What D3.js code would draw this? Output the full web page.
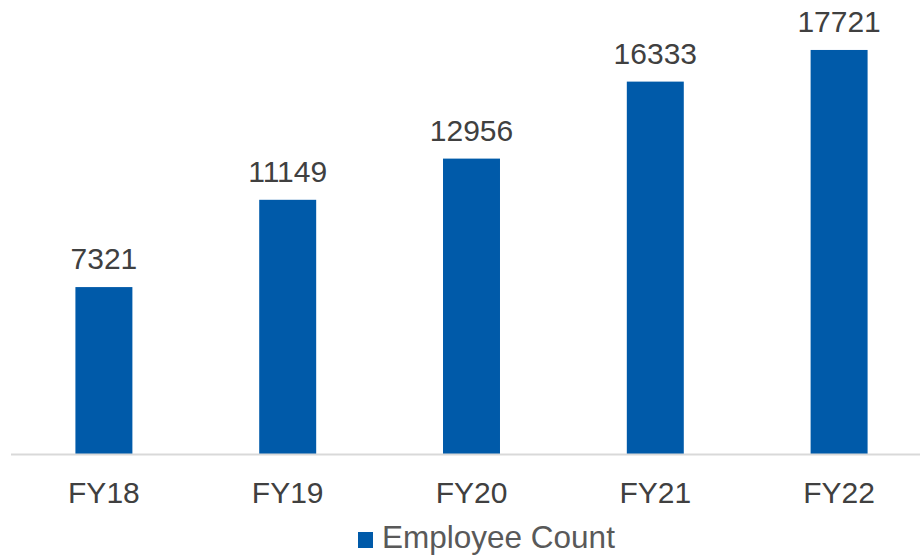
<!DOCTYPE html>
<html>
<head>
<meta charset="utf-8">
<script src="https://cdn.jsdelivr.net/npm/d3@7"></script>
<style>
  body { margin: 0; background: #fff; }
  text { font-family: "Liberation Sans", Arial, sans-serif; }
</style>
</head>
<body>
<div id="chart"></div>
<script>
var years = ["FY18", "FY19", "FY20", "FY21", "FY22"];
var employees = [7321, 11149, 12956, 16333, 17721];
var seriesName = "Employee Count";

var width = 920, height = 559;
var baseline = 454;

var svg = d3.select("#chart").append("svg")
    .attr("width", width)
    .attr("height", height);

var x = d3.scaleBand()
    .domain(years)
    .range([12, 931])
    .paddingInner(0.69)
    .paddingOuter(0.345);

var y = d3.scaleLinear()
    .domain([0, 20000])
    .range([baseline, -2]);

// bars
svg.selectAll(".bar")
    .data(employees)
  .enter().append("rect")
    .attr("class", "bar")
    .attr("x", function(d, i) { return x(years[i]); })
    .attr("width", x.bandwidth())
    .attr("y", function(d) { return y(d); })
    .attr("height", function(d) { return baseline - y(d); })
    .attr("fill", "#005AA9");

// value labels
svg.selectAll(".val")
    .data(employees)
  .enter().append("text")
    .attr("class", "val")
    .attr("x", function(d, i) { return x(years[i]) + x.bandwidth() / 2; })
    .attr("y", function(d) { return y(d) - 18; })
    .attr("text-anchor", "middle")
    .attr("font-size", "30px")
    .attr("fill", "#404040")
    .text(function(d) { return d; });

// x axis
var xAxis = svg.append("g")
    .attr("transform", "translate(0," + baseline + ")")
    .call(d3.axisBottom(x).tickSize(0).tickPadding(0));
xAxis.select(".domain").remove();
xAxis.append("line")
    .attr("x1", 11).attr("x2", width)
    .attr("y1", 0.5).attr("y2", 0.5)
    .attr("stroke", "#d9d9d9")
    .attr("stroke-width", 2);
xAxis.selectAll(".tick text")
    .attr("y", 49)
    .attr("dy", null)
    .attr("font-size", "30px")
    .attr("font-family", "Liberation Sans, Arial, sans-serif")
    .attr("fill", "#404040");

// legend
var legend = svg.append("g");
legend.append("rect")
    .attr("x", 358).attr("y", 532)
    .attr("width", 15).attr("height", 16)
    .attr("fill", "#005AA9");
legend.append("text")
    .attr("x", 382).attr("y", 548)
    .attr("font-size", "31.5px")
    .attr("fill", "#595959")
    .text(seriesName);
</script>
</body>
</html>
